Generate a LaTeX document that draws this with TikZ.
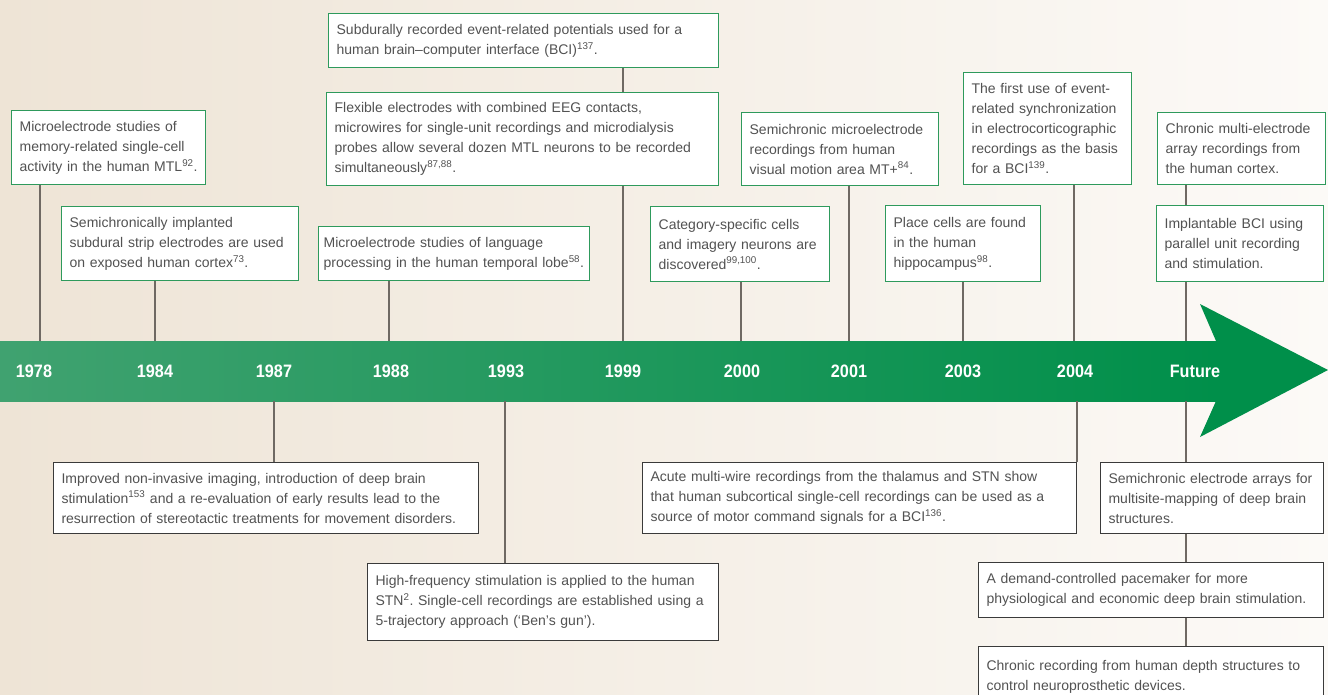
\documentclass[tikz,border=0pt]{standalone}
\usepackage{fontspec}
\setmainfont{Liberation Sans}
\usepackage{xcolor}
\frenchspacing
\definecolor{bgleft}{HTML}{EEE4D6}
\definecolor{bgright}{HTML}{FCFAF7}
\definecolor{bandleft}{HTML}{40A270}
\definecolor{bandmid}{HTML}{009B5B}
\definecolor{bandright}{HTML}{008F4A}
\definecolor{boxgreen}{HTML}{2E9A5C}
\definecolor{boxdark}{HTML}{3A3A3A}
\definecolor{linkgray}{HTML}{6F6963}
\definecolor{txtgray}{HTML}{525252}

\begin{document}
\begin{tikzpicture}[x=1pt,y=-1pt,
    upbox/.style={draw=boxgreen,fill=white,line width=1.3pt,anchor=north west,align=left,
      inner xsep=8pt,inner ysep=3pt,text=txtgray,font=\fontsize{14}{20}\selectfont},
    lowbox/.style={upbox,draw=boxdark,line width=1.1pt},
    link/.style={draw=linkgray,line width=1.2pt},
    year/.style={text=white,font=\fontsize{18}{20}\selectfont\bfseries}]
      \useasboundingbox (0,0) rectangle (1328,695);
      \shade [left color=bgleft,right color=bgright] (0,0) rectangle (1328,695);

      % timeline arrow
      \shade [left color=bandleft,middle color=bandmid,right color=bandright] (0,341) rectangle (1217,401);
      \fill [bandright] (1200,304) -- (1328,370) -- (1200,437) -- (1216,401) -- (1216,341) -- cycle;

      \coordinate (k78) at (40,341);
      \coordinate (k84) at (155,341);
      \coordinate (k88) at (389,341);
      \coordinate (k99) at (623,341);
      \coordinate (k00) at (741,341);
      \coordinate (k01) at (849,341);
      \coordinate (k03) at (963,341);
      \coordinate (k04) at (1074,341);
      \coordinate (kfu) at (1186,341);
      \coordinate (d87) at (274,401);
      \coordinate (d93) at (505,401);
      \coordinate (d04) at (1077,401);
      \coordinate (dfu) at (1186,401);

      \node [year] (y78) at (34,371) {\scalebox{0.9}[1]{1978}};
      \node [year] (y84) at (155,371) {\scalebox{0.9}[1]{1984}};
      \node [year] (y87) at (274,371) {\scalebox{0.9}[1]{1987}};
      \node [year] (y88) at (391,371) {\scalebox{0.9}[1]{1988}};
      \node [year] (y93) at (506,371) {\scalebox{0.9}[1]{1993}};
      \node [year] (y99) at (623,371) {\scalebox{0.9}[1]{1999}};
      \node [year] (y00) at (742,371) {\scalebox{0.9}[1]{2000}};
      \node [year] (y01) at (849,371) {\scalebox{0.9}[1]{2001}};
      \node [year] (y03) at (963,371) {\scalebox{0.9}[1]{2003}};
      \node [year] (y04) at (1075,371) {\scalebox{0.9}[1]{2004}};
      \node [year] (yfu) at (1195,371) {\scalebox{0.9}[1]{Future}};

      % above the arrow
      \node [upbox,text width=178pt,minimum height=74pt] (mtl) at (11,110) {%
        Microelectrode studies of\\
        memory-related single-cell\\
        activity in the human MTL\textsuperscript{92}.
      };
      \node [upbox,text width=221pt,minimum height=74pt] (strip) at (61,206) {%
        Semichronically implanted\\
        subdural strip electrodes are used\\
        on exposed human cortex\textsuperscript{73}.
      };
      \node [upbox,text width=374pt,minimum height=54pt] (erp) at (328,13) {%
        Subdurally recorded event-related potentials used for a\\
        human brain--computer interface (BCI)\textsuperscript{137}.
      };
      \node [upbox,text width=376pt,minimum height=93pt] (flex) at (326,92) {%
        Flexible electrodes with combined EEG contacts,\\
        microwires for single-unit recordings and microdialysis\\
        probes allow several dozen MTL neurons to be recorded\\
        simultaneously\textsuperscript{87,88}.
      };
      \node [upbox,inner xsep=5pt,text width=261pt,minimum height=54pt] (lang) at (318,226) {%
        Microelectrode studies of language\\
        processing in the human temporal lobe\textsuperscript{58}.
      };
      \node [upbox,text width=163pt,minimum height=75pt] (categ) at (650,206) {%
        Category-specific cells\\
        and imagery neurons are\\
        discovered\textsuperscript{99,100}.
      };
      \node [upbox,text width=181pt,minimum height=73pt] (motion) at (741,112) {%
        Semichronic microelectrode\\
        recordings from human\\
        visual motion area MT+\textsuperscript{84}.
      };
      \node [upbox,text width=139pt,minimum height=76pt] (place) at (885,205) {%
        Place cells are found\\
        in the human\\
        hippocampus\textsuperscript{98}.
      };
      \node [upbox,text width=152pt,minimum height=112pt] (ers) at (963,72) {%
        The first use of event-\\
        related synchronization\\
        in electrocorticographic\\
        recordings as the basis\\
        for a BCI\textsuperscript{139}.
      };
      \node [upbox,text width=152pt,minimum height=72pt] (array) at (1157,112) {%
        Chronic multi-electrode\\
        array recordings from\\
        the human cortex.
      };
      \node [upbox,text width=151pt,minimum height=76pt] (implant) at (1156,205) {%
        Implantable BCI using\\
        parallel unit recording\\
        and stimulation.
      };

      % below the arrow
      \node [lowbox,text width=409pt,minimum height=71pt] (imaging) at (53,462) {%
        Improved non-invasive imaging, introduction of deep brain\\
        stimulation\textsuperscript{153} and a re-evaluation of early results lead to the\\
        resurrection of stereotactic treatments for movement disorders.
      };
      \node [lowbox,text width=335pt,minimum height=77pt] (hfs) at (367,563) {%
        High-frequency stimulation is applied to the human\\
        STN\textsuperscript{2}. Single-cell recordings are established using a\\
        5-trajectory approach (`Ben's gun').
      };
      \node [lowbox,text width=418pt,minimum height=71pt] (acute) at (642,462) {%
        Acute multi-wire recordings from the thalamus and STN show\\
        that human subcortical single-cell recordings can be used as a\\
        source of motor command signals for a BCI\textsuperscript{136}.
      };
      \node [lowbox,text width=207pt,minimum height=71pt] (semi) at (1100,462) {%
        Semichronic electrode arrays for\\
        multisite-mapping of deep brain\\
        structures.
      };
      \node [lowbox,text width=329pt,minimum height=55pt] (pacer) at (978,562) {%
        A demand-controlled pacemaker for more\\
        physiological and economic deep brain stimulation.
      };
      \node [lowbox,text width=329pt,minimum height=60pt] (depth) at (978,646) {%
        Chronic recording from human depth structures to\\
        control neuroprosthetic devices.
      };

      \draw [link] (mtl.south -| k78) -- (k78);
      \draw [link] (strip.south -| k84) -- (k84);
      \draw [link] (lang.south -| k88) -- (k88);
      \draw [link] (erp.south -| k99) -- (flex.north -| k99);
      \draw [link] (flex.south -| k99) -- (k99);
      \draw [link] (categ.south -| k00) -- (k00);
      \draw [link] (motion.south -| k01) -- (k01);
      \draw [link] (place.south -| k03) -- (k03);
      \draw [link] (ers.south -| k04) -- (k04);
      \draw [link] (array.south -| kfu) -- (implant.north -| kfu);
      \draw [link] (implant.south -| kfu) -- (kfu);
      \draw [link] (d87) -- (imaging.north -| d87);
      \draw [link] (d93) -- (hfs.north -| d93);
      \draw [link] (d04) -- (acute.north -| d04);
      \draw [link] (dfu) -- (semi.north -| dfu);
      \draw [link] (semi.south -| dfu) -- (pacer.north -| dfu);
      \draw [link] (pacer.south -| dfu) -- (depth.north -| dfu);
    \end{tikzpicture}
\end{document}
